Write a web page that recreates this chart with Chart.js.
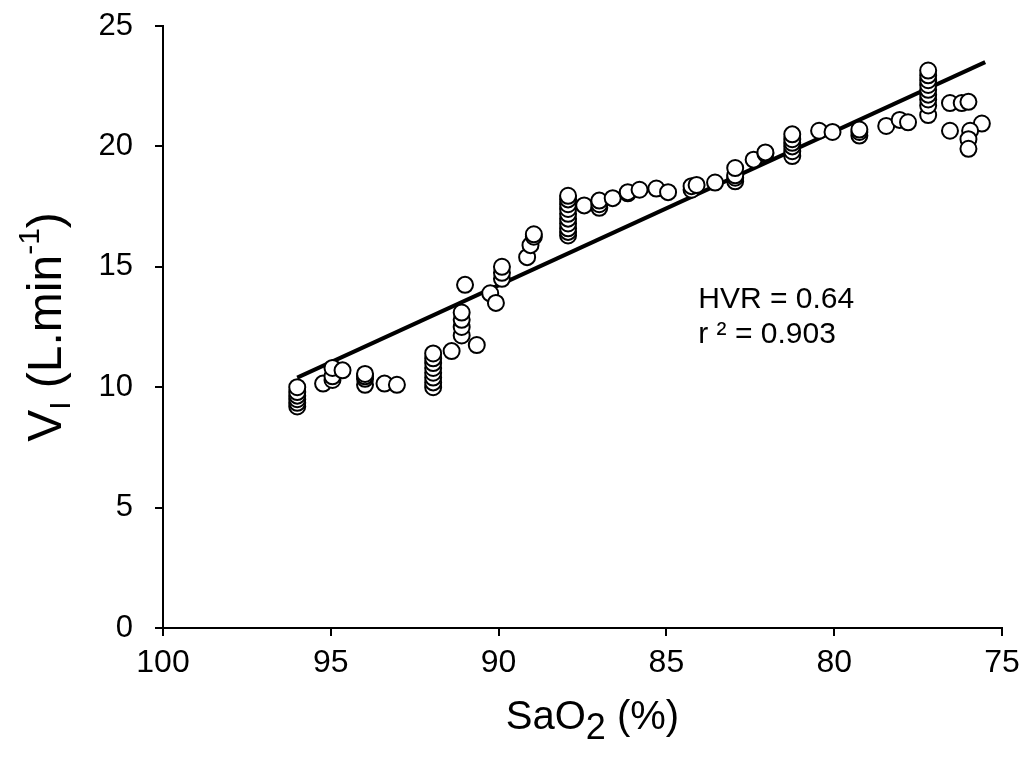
<!DOCTYPE html>
<html lang="en">
<head>
    <meta charset="UTF-8">
    <title>HVR scatter</title>
    <script src="https://cdn.jsdelivr.net/npm/chart.js"></script>
    <style>
        body { margin: 0; background: #fff; }
        #wrap { width: 1023px; height: 767px; }
    </style>
</head>
<body>
    <div id="wrap">
        <canvas id="myChart" width="1023" height="767"></canvas>
    </div>
    <script>
        // SaO2 (%) and inspired ventilation (L/min)
        const sao2 = [
            96.0, 96.0, 96.0, 96.0, 96.0, 96.0,
            95.23, 94.95, 94.95, 94.95, 94.65,
            93.98, 93.98, 93.98, 93.98, 93.4, 93.03,
            91.95, 91.95, 91.95, 91.95, 91.95, 91.95, 91.95, 91.95,
            91.4, 91.1, 91.1, 91.1, 91.1, 91.0, 90.65, 90.25, 90.08,
            89.9, 89.9, 89.9, 89.15, 89.05, 88.95, 88.95,
            87.93, 87.93, 87.93, 87.93, 87.93, 87.93, 87.93, 87.93, 87.93, 87.93,
            87.45, 87.0, 87.0, 87.0, 86.6, 86.15, 86.15, 85.8, 85.3, 84.95,
            84.25, 84.25, 84.1, 83.55,
            82.95, 82.95, 82.95, 82.95, 82.4, 82.05, 82.05,
            81.25, 81.25, 81.25, 81.25, 81.25, 81.25,
            80.45, 80.05, 79.25, 79.25, 79.25, 78.45, 78.05, 77.8,
            77.2, 77.2, 77.2, 77.2, 77.2, 77.2, 77.2, 77.2, 77.2,
            76.55, 76.2, 76.0, 76.55, 75.6, 75.95, 76.0, 76.0
        ];
        const ventilation = [
            9.2, 9.35, 9.5, 9.65, 9.8, 10.0,
            10.15, 10.3, 10.45, 10.8, 10.7,
            10.1, 10.35, 10.45, 10.55, 10.15, 10.1,
            10.0, 10.2, 10.4, 10.6, 10.8, 11.0, 11.2, 11.4,
            11.5, 12.15, 12.5, 12.8, 13.1, 14.25, 11.75, 13.9, 13.5,
            14.5, 14.75, 15.0, 15.4, 15.9, 16.25, 16.35,
            16.3, 16.45, 16.6, 16.8, 17.0, 17.2, 17.4, 17.6, 17.8, 17.95,
            17.55, 17.45, 17.6, 17.75, 17.85, 18.05, 18.1, 18.2, 18.25, 18.1,
            18.2, 18.35, 18.4, 18.5,
            18.55, 18.7, 18.8, 19.1, 19.45, 19.7, 19.75,
            19.6, 19.8, 20.0, 20.15, 20.3, 20.5,
            20.65, 20.6, 20.45, 20.6, 20.7, 20.85, 21.1, 21.0,
            21.3, 21.7, 21.95, 22.15, 22.35, 22.55, 22.75, 22.95, 23.15,
            21.8, 21.8, 21.85, 20.65, 20.95, 20.65, 20.3, 19.9
        ];

        // regression line end points
        const fitX = [96.0, 75.5];
        const fitY = [10.4, 23.5];

        const statsText = ['HVR = 0.64', 'r \u00b2 = 0.903'];

        const points = sao2.map((x, i) => ({ x: x, y: ventilation[i] }));
        const fitLine = fitX.map((x, i) => ({ x: x, y: fitY[i] }));

        const sans = '"Liberation Sans", Arial, sans-serif';
        const narrow = '"Liberation Sans Narrow", "Arial Narrow", "Liberation Sans", sans-serif';

        // draws axis titles (with sub/superscripts) and the stats text
        const titlesPlugin = {
            id: 'titles',
            afterDraw(chart) {
                const ctx = chart.ctx;
                const area = chart.chartArea;
                const xs = chart.scales.x;
                const ys = chart.scales.y;
                ctx.save();
                ctx.fillStyle = '#000';
                ctx.textBaseline = 'alphabetic';

                // x title: SaO2 (%)
                const big = '40px ' + sans;
                const sub = '36px ' + sans;
                ctx.font = big;
                const w1 = ctx.measureText('SaO').width;
                const w3 = ctx.measureText(' (%)').width;
                ctx.font = sub;
                const w2 = ctx.measureText('2').width;
                let cx = (area.left + area.right) / 2 - (w1 + w2 + w3) / 2 + 10;
                const by = 729;
                ctx.font = big;
                ctx.fillText('SaO', cx, by);
                ctx.font = sub;
                ctx.fillText('2', cx + w1, by + 10);
                ctx.font = big;
                ctx.fillText(' (%)', cx + w1 + w2, by);

                // y title: VI (L.min-1), rotated
                const yf = '48px ' + sans;
                const ysub = '30px ' + sans;
                ctx.font = yf;
                const a = ctx.measureText('V').width;
                const c = ctx.measureText(' (L.min').width;
                const e = ctx.measureText(')').width;
                ctx.font = ysub;
                const b = ctx.measureText('I').width;
                const d = ctx.measureText('-1').width;
                const total = a + b + c + d + e;
                ctx.translate(61, (area.top + area.bottom) / 2);
                ctx.rotate(-Math.PI / 2);
                let px = -total / 2;
                ctx.font = yf;
                ctx.fillText('V', px, 0); px += a;
                ctx.font = ysub;
                ctx.fillText('I', px, 9); px += b;
                ctx.font = yf;
                ctx.fillText(' (L.min', px, 0); px += c;
                ctx.font = ysub;
                ctx.fillText('-1', px, -22); px += d;
                ctx.font = yf;
                ctx.fillText(')', px, 0);
                ctx.setTransform(1, 0, 0, 1, 0, 0);

                // stats annotation
                ctx.font = '30px ' + sans;
                const tx = xs.getPixelForValue(84.05);
                ctx.fillText(statsText[0], tx, ys.getPixelForValue(13.3));
                ctx.fillText(statsText[1], tx, ys.getPixelForValue(11.85));
                ctx.restore();
            }
        };

        const ctx = document.getElementById('myChart').getContext('2d');
        const myChart = new Chart(ctx, {
            type: 'scatter',
            data: {
                datasets: [
                    {
                        label: 'data',
                        data: points,
                        backgroundColor: '#fff',
                        borderColor: '#000',
                        borderWidth: 2,
                        pointRadius: 8,
                        order: 0,
                    },
                    {
                        label: 'fit',
                        type: 'line',
                        data: fitLine,
                        borderColor: '#000',
                        borderWidth: 4,
                        pointRadius: 0,
                        fill: false,
                        order: 1,
                    },
                ],
            },
            options: {
                responsive: false,
                animation: false,
                events: [],
                layout: {
                    padding: { top: 26, right: 21, left: 0, bottom: 0 },
                },
                plugins: {
                    legend: { display: false },
                    tooltip: { enabled: false },
                },
                scales: {
                    x: {
                        type: 'linear',
                        reverse: true,
                        min: 75,
                        max: 100,
                        afterFit: s => {
                            s.height = 139;
                            s.paddingLeft = 0;
                            s.paddingRight = 0;
                        },
                        border: { color: '#000', width: 2 },
                        grid: {
                            drawOnChartArea: false,
                            color: '#000',
                            lineWidth: 2,
                            tickLength: 8,
                        },
                        ticks: {
                            stepSize: 5,
                            padding: 8,
                            color: '#000',
                            font: { family: narrow, size: 32 },
                        },
                    },
                    y: {
                        min: 0,
                        max: 25,
                        afterFit: s => {
                            s.width = 163;
                            s.paddingTop = 0;
                            s.paddingBottom = 0;
                        },
                        border: { color: '#000', width: 2 },
                        grid: {
                            drawOnChartArea: false,
                            color: '#000',
                            lineWidth: 2,
                            tickLength: 8,
                        },
                        ticks: {
                            stepSize: 5,
                            padding: 22,
                            color: '#000',
                            font: { family: sans, size: 31 },
                        },
                    },
                },
            },
            plugins: [titlesPlugin],
        });
    </script>
</body>
</html>
